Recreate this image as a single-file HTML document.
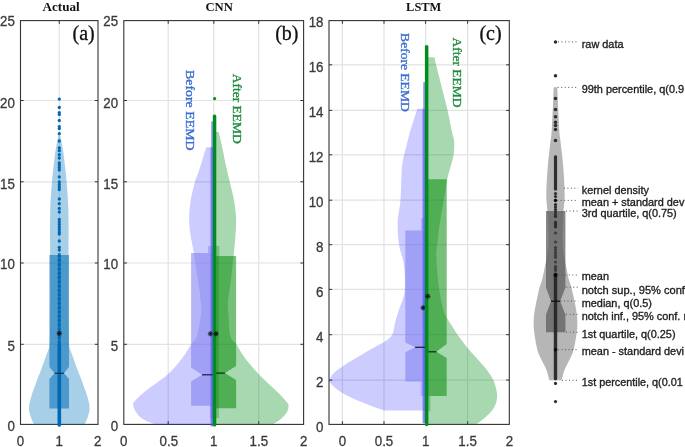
<!DOCTYPE html>
<html><head><meta charset="utf-8"><title>Violin plots</title>
<style>html,body{margin:0;padding:0;background:#fff;}svg{display:block;will-change:transform;opacity:0.999;}</style></head>
<body>
<svg width="685" height="447" viewBox="0 0 685 447">
<rect width="685" height="447" fill="#ffffff"/>
<line x1="59.30" y1="20.60" x2="59.30" y2="424.40" stroke="#e2e2e2" stroke-width="1.2"/>
<line x1="20.50" y1="100.50" x2="98.00" y2="100.50" stroke="#e2e2e2" stroke-width="1.2"/>
<line x1="20.50" y1="181.80" x2="98.00" y2="181.80" stroke="#e2e2e2" stroke-width="1.2"/>
<line x1="20.50" y1="263.00" x2="98.00" y2="263.00" stroke="#e2e2e2" stroke-width="1.2"/>
<line x1="20.50" y1="344.30" x2="98.00" y2="344.30" stroke="#e2e2e2" stroke-width="1.2"/>
<rect x="20.50" y="20.60" width="77.50" height="403.80" fill="none" stroke="#333333" stroke-width="1.1"/>
<line x1="59.30" y1="20.60" x2="59.30" y2="23.80" stroke="#333333" stroke-width="1"/>
<line x1="59.30" y1="424.40" x2="59.30" y2="421.20" stroke="#333333" stroke-width="1"/>
<line x1="20.50" y1="100.50" x2="23.70" y2="100.50" stroke="#333333" stroke-width="1"/>
<line x1="98.00" y1="100.50" x2="94.80" y2="100.50" stroke="#333333" stroke-width="1"/>
<line x1="20.50" y1="181.80" x2="23.70" y2="181.80" stroke="#333333" stroke-width="1"/>
<line x1="98.00" y1="181.80" x2="94.80" y2="181.80" stroke="#333333" stroke-width="1"/>
<line x1="20.50" y1="263.00" x2="23.70" y2="263.00" stroke="#333333" stroke-width="1"/>
<line x1="98.00" y1="263.00" x2="94.80" y2="263.00" stroke="#333333" stroke-width="1"/>
<line x1="20.50" y1="344.30" x2="23.70" y2="344.30" stroke="#333333" stroke-width="1"/>
<line x1="98.00" y1="344.30" x2="94.80" y2="344.30" stroke="#333333" stroke-width="1"/>
<clipPath id="ca"><rect x="20.50" y="20.60" width="77.50" height="403.80"/></clipPath>
<g clip-path="url(#ca)"><path d="M59.10 133.00C58.83 134.17 58.08 137.17 57.50 140.00C56.92 142.83 56.23 145.83 55.60 150.00C54.97 154.17 54.30 159.70 53.70 165.00C53.10 170.30 52.58 174.30 52.00 181.80C51.42 189.30 50.52 197.80 50.20 210.00C49.88 222.20 50.08 240.00 50.10 255.00C50.12 270.00 50.32 286.67 50.30 300.00C50.28 313.33 50.08 327.83 50.00 335.00C49.92 342.17 49.90 341.05 49.80 343.00C49.70 344.95 49.78 345.20 49.40 346.70C49.02 348.20 48.22 350.05 47.50 352.00C46.78 353.95 46.18 355.40 45.10 358.40C44.02 361.40 42.45 366.12 41.00 370.00C39.55 373.88 37.47 378.87 36.40 381.70C35.33 384.53 35.38 384.78 34.60 387.00C33.82 389.22 32.63 391.73 31.70 395.00C30.77 398.27 29.20 403.10 29.00 406.60C28.80 410.10 29.65 413.02 30.50 416.00C31.35 418.98 32.80 422.17 34.10 424.50C35.40 426.83 37.60 429.08 38.30 430.00L80.30 430.00C81.00 429.08 83.20 426.83 84.50 424.50C85.80 422.17 87.25 418.98 88.10 416.00C88.95 413.02 89.80 410.10 89.60 406.60C89.40 403.10 87.83 398.27 86.90 395.00C85.97 391.73 84.78 389.22 84.00 387.00C83.22 384.78 83.27 384.53 82.20 381.70C81.13 378.87 79.05 373.88 77.60 370.00C76.15 366.12 74.58 361.40 73.50 358.40C72.42 355.40 71.82 353.95 71.10 352.00C70.38 350.05 69.58 348.20 69.20 346.70C68.82 345.20 68.90 344.95 68.80 343.00C68.70 341.05 68.68 342.17 68.60 335.00C68.52 327.83 68.32 313.33 68.30 300.00C68.28 286.67 68.48 270.00 68.50 255.00C68.52 240.00 68.72 222.20 68.40 210.00C68.08 197.80 67.18 189.30 66.60 181.80C66.02 174.30 65.50 170.30 64.90 165.00C64.30 159.70 63.63 154.17 63.00 150.00C62.37 145.83 61.68 142.83 61.10 140.00C60.52 137.17 59.77 134.17 59.50 133.00Z" fill="rgba(0,114,189,0.34)"/></g>
<path d="M49.40 255.00L69.00 255.00L69.00 367.00L64.00 373.30L69.00 379.00L69.00 408.60L49.40 408.60L49.40 379.00L54.60 373.30L49.40 367.00Z" fill="rgba(0,110,183,0.55)"/>
<circle cx="59.30" cy="99.10" r="1.65" fill="#0069b4"/>
<circle cx="59.30" cy="107.50" r="1.65" fill="#0069b4"/>
<circle cx="59.30" cy="112.60" r="1.65" fill="#0069b4"/>
<circle cx="59.30" cy="114.60" r="1.65" fill="#0069b4"/>
<circle cx="59.30" cy="120.50" r="1.65" fill="#0069b4"/>
<circle cx="59.30" cy="126.60" r="1.65" fill="#0069b4"/>
<circle cx="59.30" cy="128.60" r="1.65" fill="#0069b4"/>
<circle cx="59.30" cy="133.70" r="1.65" fill="#0069b4"/>
<circle cx="59.30" cy="141.00" r="1.65" fill="#0069b4"/>
<circle cx="59.30" cy="148.00" r="1.65" fill="#0069b4"/>
<circle cx="59.30" cy="150.70" r="1.65" fill="#0069b4"/>
<circle cx="59.30" cy="154.70" r="1.65" fill="#0069b4"/>
<circle cx="59.30" cy="158.00" r="1.65" fill="#0069b4"/>
<circle cx="59.30" cy="162.80" r="1.65" fill="#0069b4"/>
<circle cx="59.30" cy="165.00" r="1.65" fill="#0069b4"/>
<circle cx="59.30" cy="167.50" r="1.65" fill="#0069b4"/>
<circle cx="59.30" cy="170.00" r="1.65" fill="#0069b4"/>
<circle cx="59.30" cy="176.90" r="1.65" fill="#0069b4"/>
<circle cx="59.30" cy="182.00" r="1.65" fill="#0069b4"/>
<circle cx="59.30" cy="184.50" r="1.65" fill="#0069b4"/>
<circle cx="59.30" cy="187.00" r="1.65" fill="#0069b4"/>
<circle cx="59.30" cy="189.50" r="1.65" fill="#0069b4"/>
<circle cx="59.30" cy="199.00" r="1.65" fill="#0069b4"/>
<circle cx="59.30" cy="203.70" r="1.65" fill="#0069b4"/>
<circle cx="59.30" cy="208.40" r="1.65" fill="#0069b4"/>
<circle cx="59.30" cy="212.00" r="1.65" fill="#0069b4"/>
<circle cx="59.30" cy="219.40" r="1.65" fill="#0069b4"/>
<circle cx="59.30" cy="222.00" r="1.65" fill="#0069b4"/>
<circle cx="59.30" cy="224.50" r="1.65" fill="#0069b4"/>
<circle cx="59.30" cy="227.00" r="1.65" fill="#0069b4"/>
<circle cx="59.30" cy="229.50" r="1.65" fill="#0069b4"/>
<circle cx="59.30" cy="232.00" r="1.65" fill="#0069b4"/>
<circle cx="59.30" cy="234.00" r="1.65" fill="#0069b4"/>
<circle cx="59.30" cy="241.00" r="1.65" fill="#0069b4"/>
<circle cx="59.30" cy="247.30" r="1.65" fill="#0069b4"/>
<circle cx="59.30" cy="250.00" r="1.65" fill="#0069b4"/>
<rect x="57.80" y="253.00" width="3.0" height="92.00" fill="rgba(0,105,180,0.7)"/>
<circle cx="59.30" cy="256.00" r="1.7" fill="#0069b4"/>
<circle cx="59.30" cy="260.30" r="1.7" fill="#0069b4"/>
<circle cx="59.30" cy="264.60" r="1.7" fill="#0069b4"/>
<circle cx="59.30" cy="268.90" r="1.7" fill="#0069b4"/>
<circle cx="59.30" cy="273.20" r="1.7" fill="#0069b4"/>
<circle cx="59.30" cy="277.50" r="1.7" fill="#0069b4"/>
<circle cx="59.30" cy="281.80" r="1.7" fill="#0069b4"/>
<circle cx="59.30" cy="286.10" r="1.7" fill="#0069b4"/>
<circle cx="59.30" cy="290.40" r="1.7" fill="#0069b4"/>
<circle cx="59.30" cy="294.70" r="1.7" fill="#0069b4"/>
<circle cx="59.30" cy="299.00" r="1.7" fill="#0069b4"/>
<circle cx="59.30" cy="303.30" r="1.7" fill="#0069b4"/>
<circle cx="59.30" cy="307.60" r="1.7" fill="#0069b4"/>
<circle cx="59.30" cy="311.90" r="1.7" fill="#0069b4"/>
<circle cx="59.30" cy="316.20" r="1.7" fill="#0069b4"/>
<circle cx="59.30" cy="320.50" r="1.7" fill="#0069b4"/>
<circle cx="59.30" cy="324.80" r="1.7" fill="#0069b4"/>
<circle cx="59.30" cy="329.10" r="1.7" fill="#0069b4"/>
<circle cx="59.30" cy="333.40" r="1.7" fill="#0069b4"/>
<circle cx="59.30" cy="337.70" r="1.7" fill="#0069b4"/>
<circle cx="59.30" cy="342.00" r="1.7" fill="#0069b4"/>
<rect x="57.50" y="343.00" width="3.6" height="83.80" rx="1.7" fill="#0069b4"/>
<line x1="54.60" y1="373.30" x2="64.00" y2="373.30" stroke="rgba(0,20,40,0.75)" stroke-width="1.2"/>
<circle cx="59.30" cy="333.40" r="2.32" fill="rgba(0,0,0,0.5)"/>
<line x1="56.40" y1="333.40" x2="62.20" y2="333.40" stroke="rgba(0,0,0,0.5)" stroke-width="0.8"/>
<line x1="57.25" y1="331.35" x2="61.35" y2="335.45" stroke="rgba(0,0,0,0.5)" stroke-width="0.8"/>
<line x1="59.30" y1="330.50" x2="59.30" y2="336.30" stroke="rgba(0,0,0,0.5)" stroke-width="0.8"/>
<line x1="61.35" y1="331.35" x2="57.25" y2="335.45" stroke="rgba(0,0,0,0.5)" stroke-width="0.8"/>
<text transform="translate(14.80,26.40) scale(1,1.110)" font-family="'Liberation Sans', sans-serif" font-size="13.33px" font-weight="normal" text-anchor="end" fill="#3a3a3a" stroke="#3a3a3a" stroke-width="0.28">25</text>
<text transform="translate(14.80,107.50) scale(1,1.110)" font-family="'Liberation Sans', sans-serif" font-size="13.33px" font-weight="normal" text-anchor="end" fill="#3a3a3a" stroke="#3a3a3a" stroke-width="0.28">20</text>
<text transform="translate(14.80,188.70) scale(1,1.110)" font-family="'Liberation Sans', sans-serif" font-size="13.33px" font-weight="normal" text-anchor="end" fill="#3a3a3a" stroke="#3a3a3a" stroke-width="0.28">15</text>
<text transform="translate(14.80,269.40) scale(1,1.110)" font-family="'Liberation Sans', sans-serif" font-size="13.33px" font-weight="normal" text-anchor="end" fill="#3a3a3a" stroke="#3a3a3a" stroke-width="0.28">10</text>
<text transform="translate(14.80,350.50) scale(1,1.110)" font-family="'Liberation Sans', sans-serif" font-size="13.33px" font-weight="normal" text-anchor="end" fill="#3a3a3a" stroke="#3a3a3a" stroke-width="0.28">5</text>
<text transform="translate(14.80,431.40) scale(1,1.110)" font-family="'Liberation Sans', sans-serif" font-size="13.33px" font-weight="normal" text-anchor="end" fill="#3a3a3a" stroke="#3a3a3a" stroke-width="0.28">0</text>
<text transform="translate(20.50,445.80) scale(1,1.110)" font-family="'Liberation Sans', sans-serif" font-size="13.33px" font-weight="normal" text-anchor="middle" fill="#3a3a3a" stroke="#3a3a3a" stroke-width="0.28">0</text>
<text transform="translate(59.30,445.80) scale(1,1.110)" font-family="'Liberation Sans', sans-serif" font-size="13.33px" font-weight="normal" text-anchor="middle" fill="#3a3a3a" stroke="#3a3a3a" stroke-width="0.28">1</text>
<text transform="translate(97.80,445.80) scale(1,1.110)" font-family="'Liberation Sans', sans-serif" font-size="13.33px" font-weight="normal" text-anchor="middle" fill="#3a3a3a" stroke="#3a3a3a" stroke-width="0.28">2</text>
<text transform="translate(61.10,10.70) scale(1,1.000)" font-family="'Liberation Serif', serif" font-size="13.30px" font-weight="bold" text-anchor="middle" fill="#111" textLength="37.2" lengthAdjust="spacingAndGlyphs">Actual</text>
<text transform="translate(83.60,39.60) scale(1,1.000)" font-family="'Liberation Serif', serif" font-size="20.00px" font-weight="normal" text-anchor="middle" fill="#111" stroke="#111" stroke-width="0.3">(a)</text>
<line x1="168.20" y1="20.60" x2="168.20" y2="424.40" stroke="#e2e2e2" stroke-width="1.2"/>
<line x1="213.80" y1="20.60" x2="213.80" y2="424.40" stroke="#e2e2e2" stroke-width="1.2"/>
<line x1="258.70" y1="20.60" x2="258.70" y2="424.40" stroke="#e2e2e2" stroke-width="1.2"/>
<line x1="123.80" y1="100.50" x2="303.60" y2="100.50" stroke="#e2e2e2" stroke-width="1.2"/>
<line x1="123.80" y1="181.80" x2="303.60" y2="181.80" stroke="#e2e2e2" stroke-width="1.2"/>
<line x1="123.80" y1="263.00" x2="303.60" y2="263.00" stroke="#e2e2e2" stroke-width="1.2"/>
<line x1="123.80" y1="344.30" x2="303.60" y2="344.30" stroke="#e2e2e2" stroke-width="1.2"/>
<rect x="123.80" y="20.60" width="179.80" height="403.80" fill="none" stroke="#333333" stroke-width="1.1"/>
<line x1="168.20" y1="20.60" x2="168.20" y2="23.80" stroke="#333333" stroke-width="1"/>
<line x1="168.20" y1="424.40" x2="168.20" y2="421.20" stroke="#333333" stroke-width="1"/>
<line x1="213.80" y1="20.60" x2="213.80" y2="23.80" stroke="#333333" stroke-width="1"/>
<line x1="213.80" y1="424.40" x2="213.80" y2="421.20" stroke="#333333" stroke-width="1"/>
<line x1="258.70" y1="20.60" x2="258.70" y2="23.80" stroke="#333333" stroke-width="1"/>
<line x1="258.70" y1="424.40" x2="258.70" y2="421.20" stroke="#333333" stroke-width="1"/>
<line x1="123.80" y1="100.50" x2="127.00" y2="100.50" stroke="#333333" stroke-width="1"/>
<line x1="303.60" y1="100.50" x2="300.40" y2="100.50" stroke="#333333" stroke-width="1"/>
<line x1="123.80" y1="181.80" x2="127.00" y2="181.80" stroke="#333333" stroke-width="1"/>
<line x1="303.60" y1="181.80" x2="300.40" y2="181.80" stroke="#333333" stroke-width="1"/>
<line x1="123.80" y1="263.00" x2="127.00" y2="263.00" stroke="#333333" stroke-width="1"/>
<line x1="303.60" y1="263.00" x2="300.40" y2="263.00" stroke="#333333" stroke-width="1"/>
<line x1="123.80" y1="344.30" x2="127.00" y2="344.30" stroke="#333333" stroke-width="1"/>
<line x1="303.60" y1="344.30" x2="300.40" y2="344.30" stroke="#333333" stroke-width="1"/>
<clipPath id="cb"><rect x="123.80" y="20.60" width="179.80" height="403.80"/></clipPath>
<g clip-path="url(#cb)"><path d="M213.80 147.30L206.30 147.30C205.83 148.75 204.42 153.05 203.50 156.00C202.58 158.95 201.75 162.00 200.80 165.00C199.85 168.00 198.77 171.20 197.80 174.00C196.83 176.80 196.17 177.47 195.00 181.80C193.83 186.13 191.78 193.97 190.80 200.00C189.82 206.03 189.15 212.17 189.10 218.00C189.05 223.83 189.80 229.67 190.50 235.00C191.20 240.33 192.05 242.50 193.30 250.00C194.55 257.50 196.78 271.67 198.00 280.00C199.22 288.33 200.08 294.50 200.60 300.00C201.12 305.50 201.70 307.00 201.10 313.00C200.50 319.00 198.63 330.83 197.00 336.00C195.37 341.17 193.72 340.38 191.30 344.00C188.88 347.62 186.45 352.62 182.50 357.70C178.55 362.78 173.82 368.90 167.60 374.50C161.38 380.10 150.80 386.72 145.20 391.30C139.60 395.88 135.98 399.72 134.00 402.00C132.02 404.28 133.17 403.67 133.30 405.00C133.43 406.33 133.77 408.08 134.80 410.00C135.83 411.92 137.63 414.70 139.50 416.50C141.37 418.30 143.38 419.48 146.00 420.80C148.62 422.12 151.87 423.12 155.20 424.40C158.53 425.68 164.20 427.82 166.00 428.50L213.80 430.00Z" fill="rgba(0,0,255,0.2)"/></g>
<g clip-path="url(#cb)"><path d="M213.80 132.00L218.70 132.00C219.02 133.33 219.92 137.00 220.60 140.00C221.28 143.00 221.93 145.83 222.80 150.00C223.67 154.17 224.65 159.70 225.80 165.00C226.95 170.30 228.33 175.97 229.70 181.80C231.07 187.63 232.93 193.97 234.00 200.00C235.07 206.03 235.85 212.17 236.10 218.00C236.35 223.83 235.82 229.67 235.50 235.00C235.18 240.33 234.95 242.50 234.20 250.00C233.45 257.50 232.00 271.67 231.00 280.00C230.00 288.33 228.63 294.50 228.20 300.00C227.77 305.50 228.03 307.00 228.40 313.00C228.77 319.00 229.12 330.83 230.40 336.00C231.68 341.17 233.70 340.38 236.10 344.00C238.50 347.62 240.98 352.62 244.80 357.70C248.62 362.78 253.68 368.90 259.00 374.50C264.32 380.10 272.03 386.63 276.70 391.30C281.37 395.97 285.03 399.97 287.00 402.50C288.97 405.03 288.42 405.08 288.50 406.50C288.58 407.92 288.25 409.42 287.50 411.00C286.75 412.58 285.42 414.42 284.00 416.00C282.58 417.58 280.98 419.10 279.00 420.50C277.02 421.90 274.93 423.07 272.10 424.40C269.27 425.73 263.68 427.82 262.00 428.50L213.80 430.00Z" fill="rgba(0,140,20,0.34)"/></g>
<path d="M213.80 253.10L191.10 253.10L191.10 367.50L202.00 374.80L191.10 381.50L191.10 405.70L213.80 405.70Z" fill="rgba(130,130,242,0.6)"/>
<path d="M213.80 256.00L236.10 256.00L236.10 366.10L224.90 373.10L236.10 380.10L236.10 408.30L213.80 408.30Z" fill="rgba(5,138,9,0.54)"/>
<rect x="208" y="246" width="5.80" height="7.10" fill="rgba(110,110,240,0.35)"/>
<rect x="213.80" y="246" width="5.50" height="10.00" fill="rgba(5,138,9,0.30)"/>
<rect x="210.2" y="405.7" width="3.60" height="12.30" fill="rgba(110,110,240,0.35)"/>
<rect x="213.80" y="408.3" width="5.20" height="9.70" fill="rgba(5,138,9,0.30)"/>
<rect x="209.9" y="147.3" width="3.1" height="279.00" fill="rgba(90,90,245,0.32)"/>
<rect x="211.2" y="121.4" width="1.8" height="304.90" fill="rgba(80,80,245,0.6)"/>
<rect x="216.3" y="256" width="2.7" height="152.30" fill="rgba(0,120,10,0.25)"/>
<line x1="202" y1="374.8" x2="212.6" y2="374.8" stroke="#1a1a3a" stroke-width="1.2"/>
<line x1="213.5" y1="373.1" x2="224.9" y2="373.1" stroke="#0a2a0a" stroke-width="1.2"/>
<circle cx="210.50" cy="333.80" r="2.32" fill="rgba(0,0,0,0.5)"/>
<line x1="207.60" y1="333.80" x2="213.40" y2="333.80" stroke="rgba(0,0,0,0.5)" stroke-width="0.8"/>
<line x1="208.45" y1="331.75" x2="212.55" y2="335.85" stroke="rgba(0,0,0,0.5)" stroke-width="0.8"/>
<line x1="210.50" y1="330.90" x2="210.50" y2="336.70" stroke="rgba(0,0,0,0.5)" stroke-width="0.8"/>
<line x1="212.55" y1="331.75" x2="208.45" y2="335.85" stroke="rgba(0,0,0,0.5)" stroke-width="0.8"/>
<rect x="212.8" y="114.5" width="3.5" height="312.00" rx="1.6" fill="#008c1e"/>
<circle cx="214.6" cy="98.6" r="1.6" fill="#008c1e"/>
<circle cx="216.00" cy="333.80" r="2.32" fill="rgba(0,0,0,0.5)"/>
<line x1="213.10" y1="333.80" x2="218.90" y2="333.80" stroke="rgba(0,0,0,0.5)" stroke-width="0.8"/>
<line x1="213.95" y1="331.75" x2="218.05" y2="335.85" stroke="rgba(0,0,0,0.5)" stroke-width="0.8"/>
<line x1="216.00" y1="330.90" x2="216.00" y2="336.70" stroke="rgba(0,0,0,0.5)" stroke-width="0.8"/>
<line x1="218.05" y1="331.75" x2="213.95" y2="335.85" stroke="rgba(0,0,0,0.5)" stroke-width="0.8"/>
<text transform="translate(118.10,26.40) scale(1,1.110)" font-family="'Liberation Sans', sans-serif" font-size="13.33px" font-weight="normal" text-anchor="end" fill="#3a3a3a" stroke="#3a3a3a" stroke-width="0.28">25</text>
<text transform="translate(118.10,107.50) scale(1,1.110)" font-family="'Liberation Sans', sans-serif" font-size="13.33px" font-weight="normal" text-anchor="end" fill="#3a3a3a" stroke="#3a3a3a" stroke-width="0.28">20</text>
<text transform="translate(118.10,188.70) scale(1,1.110)" font-family="'Liberation Sans', sans-serif" font-size="13.33px" font-weight="normal" text-anchor="end" fill="#3a3a3a" stroke="#3a3a3a" stroke-width="0.28">15</text>
<text transform="translate(118.10,269.40) scale(1,1.110)" font-family="'Liberation Sans', sans-serif" font-size="13.33px" font-weight="normal" text-anchor="end" fill="#3a3a3a" stroke="#3a3a3a" stroke-width="0.28">10</text>
<text transform="translate(118.10,350.50) scale(1,1.110)" font-family="'Liberation Sans', sans-serif" font-size="13.33px" font-weight="normal" text-anchor="end" fill="#3a3a3a" stroke="#3a3a3a" stroke-width="0.28">5</text>
<text transform="translate(118.10,431.40) scale(1,1.110)" font-family="'Liberation Sans', sans-serif" font-size="13.33px" font-weight="normal" text-anchor="end" fill="#3a3a3a" stroke="#3a3a3a" stroke-width="0.28">0</text>
<text transform="translate(123.80,445.80) scale(1,1.110)" font-family="'Liberation Sans', sans-serif" font-size="13.33px" font-weight="normal" text-anchor="middle" fill="#3a3a3a" stroke="#3a3a3a" stroke-width="0.28">0</text>
<text transform="translate(168.80,445.80) scale(1,1.110)" font-family="'Liberation Sans', sans-serif" font-size="13.33px" font-weight="normal" text-anchor="middle" fill="#3a3a3a" stroke="#3a3a3a" stroke-width="0.28">0.5</text>
<text transform="translate(213.80,445.80) scale(1,1.110)" font-family="'Liberation Sans', sans-serif" font-size="13.33px" font-weight="normal" text-anchor="middle" fill="#3a3a3a" stroke="#3a3a3a" stroke-width="0.28">1</text>
<text transform="translate(258.80,445.80) scale(1,1.110)" font-family="'Liberation Sans', sans-serif" font-size="13.33px" font-weight="normal" text-anchor="middle" fill="#3a3a3a" stroke="#3a3a3a" stroke-width="0.28">1.5</text>
<text transform="translate(303.80,445.80) scale(1,1.110)" font-family="'Liberation Sans', sans-serif" font-size="13.33px" font-weight="normal" text-anchor="middle" fill="#3a3a3a" stroke="#3a3a3a" stroke-width="0.28">2</text>
<text transform="translate(219.10,10.70) scale(1,1.000)" font-family="'Liberation Serif', serif" font-size="13.30px" font-weight="bold" text-anchor="middle" fill="#111" textLength="27.4" lengthAdjust="spacingAndGlyphs">CNN</text>
<text transform="translate(286.80,39.50) scale(1,1.000)" font-family="'Liberation Serif', serif" font-size="20.00px" font-weight="normal" text-anchor="middle" fill="#111" stroke="#111" stroke-width="0.3">(b)</text>
<text transform="translate(186.00,70.00) rotate(90)" font-family="'Liberation Serif', serif" font-size="13.40px" stroke="#3d6fd0" stroke-width="0.35" fill="#3d6fd0" textLength="80.50" lengthAdjust="spacingAndGlyphs">Before EEMD</text>
<text transform="translate(233.40,73.80) rotate(90)" font-family="'Liberation Serif', serif" font-size="13.40px" stroke="#1e8c3c" stroke-width="0.35" fill="#1e8c3c" textLength="70.00" lengthAdjust="spacingAndGlyphs">After EEMD</text>
<line x1="342.40" y1="20.60" x2="342.40" y2="424.40" stroke="#e2e2e2" stroke-width="1.2"/>
<line x1="384.00" y1="20.60" x2="384.00" y2="424.40" stroke="#e2e2e2" stroke-width="1.2"/>
<line x1="425.60" y1="20.60" x2="425.60" y2="424.40" stroke="#e2e2e2" stroke-width="1.2"/>
<line x1="467.60" y1="20.60" x2="467.60" y2="424.40" stroke="#e2e2e2" stroke-width="1.2"/>
<line x1="329.00" y1="64.80" x2="509.30" y2="64.80" stroke="#e2e2e2" stroke-width="1.2"/>
<line x1="329.00" y1="110.40" x2="509.30" y2="110.40" stroke="#e2e2e2" stroke-width="1.2"/>
<line x1="329.00" y1="154.80" x2="509.30" y2="154.80" stroke="#e2e2e2" stroke-width="1.2"/>
<line x1="329.00" y1="200.20" x2="509.30" y2="200.20" stroke="#e2e2e2" stroke-width="1.2"/>
<line x1="329.00" y1="244.70" x2="509.30" y2="244.70" stroke="#e2e2e2" stroke-width="1.2"/>
<line x1="329.00" y1="289.40" x2="509.30" y2="289.40" stroke="#e2e2e2" stroke-width="1.2"/>
<line x1="329.00" y1="334.70" x2="509.30" y2="334.70" stroke="#e2e2e2" stroke-width="1.2"/>
<line x1="329.00" y1="380.10" x2="509.30" y2="380.10" stroke="#e2e2e2" stroke-width="1.2"/>
<rect x="329.00" y="20.60" width="180.30" height="403.80" fill="none" stroke="#333333" stroke-width="1.1"/>
<line x1="342.40" y1="20.60" x2="342.40" y2="23.80" stroke="#333333" stroke-width="1"/>
<line x1="342.40" y1="424.40" x2="342.40" y2="421.20" stroke="#333333" stroke-width="1"/>
<line x1="384.00" y1="20.60" x2="384.00" y2="23.80" stroke="#333333" stroke-width="1"/>
<line x1="384.00" y1="424.40" x2="384.00" y2="421.20" stroke="#333333" stroke-width="1"/>
<line x1="425.60" y1="20.60" x2="425.60" y2="23.80" stroke="#333333" stroke-width="1"/>
<line x1="425.60" y1="424.40" x2="425.60" y2="421.20" stroke="#333333" stroke-width="1"/>
<line x1="467.60" y1="20.60" x2="467.60" y2="23.80" stroke="#333333" stroke-width="1"/>
<line x1="467.60" y1="424.40" x2="467.60" y2="421.20" stroke="#333333" stroke-width="1"/>
<line x1="329.00" y1="64.80" x2="332.20" y2="64.80" stroke="#333333" stroke-width="1"/>
<line x1="509.30" y1="64.80" x2="506.10" y2="64.80" stroke="#333333" stroke-width="1"/>
<line x1="329.00" y1="110.40" x2="332.20" y2="110.40" stroke="#333333" stroke-width="1"/>
<line x1="509.30" y1="110.40" x2="506.10" y2="110.40" stroke="#333333" stroke-width="1"/>
<line x1="329.00" y1="154.80" x2="332.20" y2="154.80" stroke="#333333" stroke-width="1"/>
<line x1="509.30" y1="154.80" x2="506.10" y2="154.80" stroke="#333333" stroke-width="1"/>
<line x1="329.00" y1="200.20" x2="332.20" y2="200.20" stroke="#333333" stroke-width="1"/>
<line x1="509.30" y1="200.20" x2="506.10" y2="200.20" stroke="#333333" stroke-width="1"/>
<line x1="329.00" y1="244.70" x2="332.20" y2="244.70" stroke="#333333" stroke-width="1"/>
<line x1="509.30" y1="244.70" x2="506.10" y2="244.70" stroke="#333333" stroke-width="1"/>
<line x1="329.00" y1="289.40" x2="332.20" y2="289.40" stroke="#333333" stroke-width="1"/>
<line x1="509.30" y1="289.40" x2="506.10" y2="289.40" stroke="#333333" stroke-width="1"/>
<line x1="329.00" y1="334.70" x2="332.20" y2="334.70" stroke="#333333" stroke-width="1"/>
<line x1="509.30" y1="334.70" x2="506.10" y2="334.70" stroke="#333333" stroke-width="1"/>
<line x1="329.00" y1="380.10" x2="332.20" y2="380.10" stroke="#333333" stroke-width="1"/>
<line x1="509.30" y1="380.10" x2="506.10" y2="380.10" stroke="#333333" stroke-width="1"/>
<clipPath id="cc"><rect x="329.00" y="20.60" width="180.30" height="403.80"/></clipPath>
<g clip-path="url(#cc)"><path d="M425.60 108.70L417.30 108.70C416.08 112.58 411.77 125.95 410.00 132.00C408.23 138.05 407.67 141.25 406.70 145.00C405.73 148.75 405.00 150.67 404.20 154.50C403.40 158.33 402.52 160.42 401.90 168.00C401.28 175.58 401.20 191.00 400.50 200.00C399.80 209.00 397.93 214.50 397.70 222.00C397.47 229.50 398.05 237.83 399.10 245.00C400.15 252.17 403.05 257.60 404.00 265.00C404.95 272.40 405.05 283.57 404.80 289.40C404.55 295.23 403.43 296.73 402.50 300.00C401.57 303.27 400.45 305.17 399.20 309.00C397.95 312.83 396.17 318.70 395.00 323.00C393.83 327.30 393.83 331.77 392.20 334.80C390.57 337.83 388.47 338.97 385.20 341.20C381.93 343.43 377.03 345.63 372.60 348.20C368.17 350.77 363.27 353.80 358.60 356.60C353.93 359.40 348.80 362.20 344.60 365.00C340.40 367.80 335.83 371.07 333.40 373.40C330.97 375.73 330.62 377.57 330.00 379.00C329.38 380.43 328.90 380.60 329.70 382.00C330.50 383.40 331.85 385.10 334.80 387.40C337.75 389.70 342.03 393.00 347.40 395.80C352.77 398.60 361.17 401.87 367.00 404.20C372.83 406.53 379.23 408.73 382.40 409.80C385.57 410.87 385.40 410.47 386.00 410.60L425.60 410.60Z" fill="rgba(0,0,255,0.2)"/></g>
<g clip-path="url(#cc)"><path d="M425.60 57.20L434.70 57.20C434.93 58.47 434.80 59.33 436.10 64.80C437.40 70.27 440.58 82.40 442.50 90.00C444.42 97.60 446.02 103.40 447.60 110.40C449.18 117.40 450.97 127.23 452.00 132.00C453.03 136.77 453.42 136.67 453.80 139.00C454.18 141.33 454.37 143.17 454.30 146.00C454.23 148.83 454.03 152.50 453.40 156.00C452.77 159.50 451.52 163.13 450.50 167.00C449.48 170.87 448.40 173.70 447.30 179.20C446.20 184.70 445.17 192.53 443.90 200.00C442.63 207.47 440.82 216.50 439.70 224.00C438.58 231.50 437.77 239.83 437.20 245.00C436.63 250.17 436.28 250.50 436.30 255.00C436.32 259.50 436.80 266.17 437.30 272.00C437.80 277.83 438.30 283.67 439.30 290.00C440.30 296.33 442.07 305.42 443.30 310.00C444.53 314.58 445.25 314.83 446.70 317.50C448.15 320.17 450.22 323.15 452.00 326.00C453.78 328.85 455.83 332.27 457.40 334.60C458.97 336.93 459.42 337.43 461.40 340.00C463.38 342.57 466.48 346.65 469.30 350.00C472.12 353.35 475.35 356.73 478.30 360.10C481.25 363.47 484.48 366.83 487.00 370.20C489.52 373.57 491.82 376.93 493.40 380.30C494.98 383.67 495.88 387.72 496.50 390.40C497.12 393.08 497.27 394.05 497.10 396.40C496.93 398.75 496.62 401.82 495.50 404.50C494.38 407.18 492.75 409.82 490.40 412.50C488.05 415.18 483.75 418.65 481.40 420.60C479.05 422.55 478.20 422.80 476.30 424.20C474.40 425.60 471.05 428.20 470.00 429.00L425.60 429.00Z" fill="rgba(0,140,20,0.34)"/></g>
<path d="M425.60 230.40L405.30 230.40L405.30 342.50L415.10 347.30L405.30 352.30L405.30 381.40L425.60 381.40Z" fill="rgba(130,130,242,0.6)"/>
<path d="M425.60 179.20L446.70 179.20L446.70 344.00L436.40 351.80L446.70 358.00L446.70 396.00L425.60 396.00Z" fill="rgba(5,138,9,0.54)"/>
<rect x="421" y="218.3" width="4.60" height="12.10" fill="rgba(110,110,240,0.35)"/>
<rect x="420.7" y="381.4" width="4.90" height="14.60" fill="rgba(110,110,240,0.35)"/>
<rect x="425.60" y="396" width="4.80" height="15.30" fill="rgba(5,138,9,0.30)"/>
<rect x="422.0" y="108.7" width="3.0" height="314.50" fill="rgba(90,90,245,0.32)"/>
<rect x="423.2" y="82.1" width="1.8" height="341.10" fill="rgba(80,80,245,0.6)"/>
<line x1="415.1" y1="347.3" x2="424.9" y2="347.3" stroke="#1a1a3a" stroke-width="1.2"/>
<line x1="425.7" y1="351.8" x2="436.4" y2="351.8" stroke="#0a2a0a" stroke-width="1.2"/>
<circle cx="423.20" cy="307.80" r="2.32" fill="rgba(0,0,0,0.5)"/>
<line x1="420.30" y1="307.80" x2="426.10" y2="307.80" stroke="rgba(0,0,0,0.5)" stroke-width="0.8"/>
<line x1="421.15" y1="305.75" x2="425.25" y2="309.85" stroke="rgba(0,0,0,0.5)" stroke-width="0.8"/>
<line x1="423.20" y1="304.90" x2="423.20" y2="310.70" stroke="rgba(0,0,0,0.5)" stroke-width="0.8"/>
<line x1="425.25" y1="305.75" x2="421.15" y2="309.85" stroke="rgba(0,0,0,0.5)" stroke-width="0.8"/>
<rect x="424.9" y="45.0" width="3.5" height="381.20" rx="1.6" fill="#008c1e"/>
<circle cx="427.80" cy="296.30" r="2.32" fill="rgba(0,0,0,0.5)"/>
<line x1="424.90" y1="296.30" x2="430.70" y2="296.30" stroke="rgba(0,0,0,0.5)" stroke-width="0.8"/>
<line x1="425.75" y1="294.25" x2="429.85" y2="298.35" stroke="rgba(0,0,0,0.5)" stroke-width="0.8"/>
<line x1="427.80" y1="293.40" x2="427.80" y2="299.20" stroke="rgba(0,0,0,0.5)" stroke-width="0.8"/>
<line x1="429.85" y1="294.25" x2="425.75" y2="298.35" stroke="rgba(0,0,0,0.5)" stroke-width="0.8"/>
<text transform="translate(323.50,26.50) scale(1,1.110)" font-family="'Liberation Sans', sans-serif" font-size="13.33px" font-weight="normal" text-anchor="end" fill="#3a3a3a" stroke="#3a3a3a" stroke-width="0.28">18</text>
<text transform="translate(323.50,71.80) scale(1,1.110)" font-family="'Liberation Sans', sans-serif" font-size="13.33px" font-weight="normal" text-anchor="end" fill="#3a3a3a" stroke="#3a3a3a" stroke-width="0.28">16</text>
<text transform="translate(323.50,116.80) scale(1,1.110)" font-family="'Liberation Sans', sans-serif" font-size="13.33px" font-weight="normal" text-anchor="end" fill="#3a3a3a" stroke="#3a3a3a" stroke-width="0.28">14</text>
<text transform="translate(323.50,161.70) scale(1,1.110)" font-family="'Liberation Sans', sans-serif" font-size="13.33px" font-weight="normal" text-anchor="end" fill="#3a3a3a" stroke="#3a3a3a" stroke-width="0.28">12</text>
<text transform="translate(323.50,206.60) scale(1,1.110)" font-family="'Liberation Sans', sans-serif" font-size="13.33px" font-weight="normal" text-anchor="end" fill="#3a3a3a" stroke="#3a3a3a" stroke-width="0.28">10</text>
<text transform="translate(323.50,251.60) scale(1,1.110)" font-family="'Liberation Sans', sans-serif" font-size="13.33px" font-weight="normal" text-anchor="end" fill="#3a3a3a" stroke="#3a3a3a" stroke-width="0.28">8</text>
<text transform="translate(323.50,296.60) scale(1,1.110)" font-family="'Liberation Sans', sans-serif" font-size="13.33px" font-weight="normal" text-anchor="end" fill="#3a3a3a" stroke="#3a3a3a" stroke-width="0.28">6</text>
<text transform="translate(323.50,341.60) scale(1,1.110)" font-family="'Liberation Sans', sans-serif" font-size="13.33px" font-weight="normal" text-anchor="end" fill="#3a3a3a" stroke="#3a3a3a" stroke-width="0.28">4</text>
<text transform="translate(323.50,386.60) scale(1,1.110)" font-family="'Liberation Sans', sans-serif" font-size="13.33px" font-weight="normal" text-anchor="end" fill="#3a3a3a" stroke="#3a3a3a" stroke-width="0.28">2</text>
<text transform="translate(323.50,431.50) scale(1,1.110)" font-family="'Liberation Sans', sans-serif" font-size="13.33px" font-weight="normal" text-anchor="end" fill="#3a3a3a" stroke="#3a3a3a" stroke-width="0.28">0</text>
<text transform="translate(342.40,445.80) scale(1,1.110)" font-family="'Liberation Sans', sans-serif" font-size="13.33px" font-weight="normal" text-anchor="middle" fill="#3a3a3a" stroke="#3a3a3a" stroke-width="0.28">0</text>
<text transform="translate(384.00,445.80) scale(1,1.110)" font-family="'Liberation Sans', sans-serif" font-size="13.33px" font-weight="normal" text-anchor="middle" fill="#3a3a3a" stroke="#3a3a3a" stroke-width="0.28">0.5</text>
<text transform="translate(425.60,445.80) scale(1,1.110)" font-family="'Liberation Sans', sans-serif" font-size="13.33px" font-weight="normal" text-anchor="middle" fill="#3a3a3a" stroke="#3a3a3a" stroke-width="0.28">1</text>
<text transform="translate(467.60,445.80) scale(1,1.110)" font-family="'Liberation Sans', sans-serif" font-size="13.33px" font-weight="normal" text-anchor="middle" fill="#3a3a3a" stroke="#3a3a3a" stroke-width="0.28">1.5</text>
<text transform="translate(509.40,445.80) scale(1,1.110)" font-family="'Liberation Sans', sans-serif" font-size="13.33px" font-weight="normal" text-anchor="middle" fill="#3a3a3a" stroke="#3a3a3a" stroke-width="0.28">2</text>
<text transform="translate(423.70,10.70) scale(1,1.000)" font-family="'Liberation Serif', serif" font-size="13.30px" font-weight="bold" text-anchor="middle" fill="#111" textLength="35.2" lengthAdjust="spacingAndGlyphs">LSTM</text>
<text transform="translate(490.50,39.50) scale(1,1.000)" font-family="'Liberation Serif', serif" font-size="20.00px" font-weight="normal" text-anchor="middle" fill="#111" stroke="#111" stroke-width="0.3">(c)</text>
<text transform="translate(401.00,33.10) rotate(90)" font-family="'Liberation Serif', serif" font-size="13.40px" stroke="#3d6fd0" stroke-width="0.35" fill="#3d6fd0" textLength="78.60" lengthAdjust="spacingAndGlyphs">Before EEMD</text>
<text transform="translate(452.80,37.50) rotate(90)" font-family="'Liberation Serif', serif" font-size="13.40px" stroke="#1e8c3c" stroke-width="0.35" fill="#1e8c3c" textLength="70.00" lengthAdjust="spacingAndGlyphs">After EEMD</text>
<path d="M553.70 87.20C553.62 89.33 553.40 95.37 553.20 100.00C553.00 104.63 552.75 110.00 552.50 115.00C552.25 120.00 551.90 126.67 551.70 130.00C551.50 133.33 551.67 131.67 551.30 135.00C550.93 138.33 550.13 144.17 549.50 150.00C548.87 155.83 548.03 162.50 547.50 170.00C546.97 177.50 546.32 188.17 546.30 195.00C546.28 201.83 547.03 204.50 547.40 211.00C547.77 217.50 548.42 227.50 548.50 234.00C548.58 240.50 548.62 244.00 547.90 250.00C547.18 256.00 545.18 265.00 544.20 270.00C543.22 275.00 542.75 277.17 542.00 280.00C541.25 282.83 540.62 283.50 539.70 287.00C538.78 290.50 537.42 296.50 536.50 301.00C535.58 305.50 534.67 310.50 534.20 314.00C533.73 317.50 533.70 319.00 533.70 322.00C533.70 325.00 533.58 327.33 534.20 332.00C534.82 336.67 536.17 345.33 537.40 350.00C538.63 354.67 540.08 356.67 541.60 360.00C543.12 363.33 545.22 366.62 546.50 370.00C547.78 373.38 548.83 378.58 549.30 380.30L561.70 380.30C562.17 378.58 563.22 373.38 564.50 370.00C565.78 366.62 567.88 363.33 569.40 360.00C570.92 356.67 572.37 354.67 573.60 350.00C574.83 345.33 576.18 336.67 576.80 332.00C577.42 327.33 577.30 325.00 577.30 322.00C577.30 319.00 577.27 317.50 576.80 314.00C576.33 310.50 575.42 305.50 574.50 301.00C573.58 296.50 572.22 290.50 571.30 287.00C570.38 283.50 569.75 282.83 569.00 280.00C568.25 277.17 567.78 275.00 566.80 270.00C565.82 265.00 563.82 256.00 563.10 250.00C562.38 244.00 562.42 240.50 562.50 234.00C562.58 227.50 563.23 217.50 563.60 211.00C563.97 204.50 564.72 201.83 564.70 195.00C564.68 188.17 564.03 177.50 563.50 170.00C562.97 162.50 562.13 155.83 561.50 150.00C560.87 144.17 560.07 138.33 559.70 135.00C559.33 131.67 559.50 133.33 559.30 130.00C559.10 126.67 558.75 120.00 558.50 115.00C558.25 110.00 558.00 104.63 557.80 100.00C557.60 95.37 557.38 89.33 557.30 87.20Z" fill="rgba(0,0,0,0.285)"/>
<path d="M546.00 210.90L565.40 210.90L565.40 287.40L560.20 301.20L565.40 314.60L565.40 332.20L546.00 332.20L546.00 314.60L551.00 301.20L546.00 287.40Z" fill="rgba(93,93,93,0.74)"/>
<circle cx="555.50" cy="41.90" r="1.75" fill="#2d2d2d"/>
<circle cx="555.50" cy="75.80" r="1.75" fill="#2d2d2d"/>
<circle cx="555.50" cy="98.50" r="1.75" fill="#2d2d2d"/>
<circle cx="555.50" cy="109.40" r="1.75" fill="#2d2d2d"/>
<circle cx="555.50" cy="116.70" r="1.75" fill="#2d2d2d"/>
<circle cx="555.50" cy="122.30" r="1.75" fill="#2d2d2d"/>
<circle cx="555.50" cy="125.50" r="1.75" fill="#2d2d2d"/>
<circle cx="555.50" cy="129.60" r="1.75" fill="#2d2d2d"/>
<circle cx="555.50" cy="140.50" r="1.75" fill="#2d2d2d"/>
<circle cx="555.50" cy="157.00" r="1.75" fill="#2d2d2d"/>
<circle cx="555.50" cy="159.00" r="1.75" fill="#2d2d2d"/>
<circle cx="555.50" cy="161.00" r="1.75" fill="#2d2d2d"/>
<circle cx="555.50" cy="163.00" r="1.75" fill="#2d2d2d"/>
<circle cx="555.50" cy="165.00" r="1.75" fill="#2d2d2d"/>
<circle cx="555.50" cy="167.00" r="1.75" fill="#2d2d2d"/>
<circle cx="555.50" cy="169.00" r="1.75" fill="#2d2d2d"/>
<circle cx="555.50" cy="171.00" r="1.75" fill="#2d2d2d"/>
<circle cx="555.50" cy="173.00" r="1.75" fill="#2d2d2d"/>
<circle cx="555.50" cy="175.00" r="1.75" fill="#2d2d2d"/>
<circle cx="555.50" cy="177.00" r="1.75" fill="#2d2d2d"/>
<circle cx="555.50" cy="179.00" r="1.75" fill="#2d2d2d"/>
<circle cx="555.50" cy="181.00" r="1.75" fill="#2d2d2d"/>
<circle cx="555.50" cy="183.00" r="1.75" fill="#2d2d2d"/>
<circle cx="555.50" cy="185.00" r="1.75" fill="#2d2d2d"/>
<circle cx="555.50" cy="187.00" r="1.75" fill="#2d2d2d"/>
<circle cx="555.50" cy="189.00" r="1.75" fill="#2d2d2d"/>
<circle cx="555.50" cy="193.50" r="1.6" fill="#2d2d2d"/>
<circle cx="555.50" cy="196.50" r="1.6" fill="#2d2d2d"/>
<circle cx="555.50" cy="200.40" r="1.6" fill="#2d2d2d"/>
<circle cx="555.50" cy="204.60" r="1.6" fill="#2d2d2d"/>
<circle cx="555.50" cy="207.00" r="1.6" fill="#2d2d2d"/>
<circle cx="555.50" cy="209.50" r="1.6" fill="#2d2d2d"/>
<circle cx="555.50" cy="212.00" r="1.6" fill="#2d2d2d"/>
<circle cx="555.50" cy="214.50" r="1.6" fill="#2d2d2d"/>
<circle cx="555.50" cy="216.50" r="1.6" fill="#2d2d2d"/>
<circle cx="555.50" cy="222.50" r="1.65" fill="rgba(35,35,35,0.85)"/>
<circle cx="555.50" cy="224.60" r="1.65" fill="rgba(35,35,35,0.85)"/>
<circle cx="555.50" cy="226.80" r="1.65" fill="rgba(35,35,35,0.85)"/>
<circle cx="555.50" cy="233.00" r="1.6" fill="rgba(35,35,35,0.66)"/>
<circle cx="555.50" cy="242.00" r="1.6" fill="rgba(35,35,35,0.66)"/>
<circle cx="555.50" cy="247.50" r="1.6" fill="rgba(35,35,35,0.66)"/>
<circle cx="555.50" cy="250.00" r="1.6" fill="rgba(35,35,35,0.66)"/>
<circle cx="555.50" cy="252.50" r="1.6" fill="rgba(35,35,35,0.66)"/>
<circle cx="555.50" cy="255.00" r="1.6" fill="rgba(35,35,35,0.66)"/>
<circle cx="555.50" cy="257.30" r="1.6" fill="rgba(35,35,35,0.66)"/>
<circle cx="555.50" cy="262.00" r="1.6" fill="rgba(35,35,35,0.66)"/>
<circle cx="555.50" cy="266.30" r="1.6" fill="rgba(35,35,35,0.66)"/>
<circle cx="555.50" cy="268.50" r="1.6" fill="rgba(35,35,35,0.66)"/>
<circle cx="555.50" cy="270.50" r="1.6" fill="rgba(35,35,35,0.66)"/>
<rect x="553.80" y="272.50" width="3.4" height="108.00" rx="1.7" fill="rgba(35,35,35,0.92)"/>
<line x1="551.00" y1="301.20" x2="560.20" y2="301.20" stroke="#111" stroke-width="1.3"/>
<circle cx="555.50" cy="383.40" r="1.6" fill="#2d2d2d"/>
<circle cx="555.50" cy="401.60" r="1.6" fill="#2d2d2d"/>
<circle cx="555.50" cy="275.00" r="1.68" fill="rgba(0,0,0,0.8)"/>
<line x1="553.40" y1="275.00" x2="557.60" y2="275.00" stroke="rgba(0,0,0,0.8)" stroke-width="0.8"/>
<line x1="554.02" y1="273.52" x2="556.98" y2="276.48" stroke="rgba(0,0,0,0.8)" stroke-width="0.8"/>
<line x1="555.50" y1="272.90" x2="555.50" y2="277.10" stroke="rgba(0,0,0,0.8)" stroke-width="0.8"/>
<line x1="556.98" y1="273.52" x2="554.02" y2="276.48" stroke="rgba(0,0,0,0.8)" stroke-width="0.8"/>
<circle cx="555.50" cy="200.40" r="1.44" fill="rgba(0,0,0,0.6)"/>
<line x1="553.70" y1="200.40" x2="557.30" y2="200.40" stroke="rgba(0,0,0,0.6)" stroke-width="0.8"/>
<line x1="554.23" y1="199.13" x2="556.77" y2="201.67" stroke="rgba(0,0,0,0.6)" stroke-width="0.8"/>
<line x1="555.50" y1="198.60" x2="555.50" y2="202.20" stroke="rgba(0,0,0,0.6)" stroke-width="0.8"/>
<line x1="556.77" y1="199.13" x2="554.23" y2="201.67" stroke="rgba(0,0,0,0.6)" stroke-width="0.8"/>
<circle cx="555.50" cy="349.70" r="1.44" fill="rgba(0,0,0,0.6)"/>
<line x1="553.70" y1="349.70" x2="557.30" y2="349.70" stroke="rgba(0,0,0,0.6)" stroke-width="0.8"/>
<line x1="554.23" y1="348.43" x2="556.77" y2="350.97" stroke="rgba(0,0,0,0.6)" stroke-width="0.8"/>
<line x1="555.50" y1="347.90" x2="555.50" y2="351.50" stroke="rgba(0,0,0,0.6)" stroke-width="0.8"/>
<line x1="556.77" y1="348.43" x2="554.23" y2="350.97" stroke="rgba(0,0,0,0.6)" stroke-width="0.8"/>
<line x1="558.00" y1="41.90" x2="578.20" y2="41.90" stroke="#555" stroke-width="1" stroke-dasharray="1 2.5"/>
<text transform="translate(581.70,47.80) scale(1,1.000)" font-family="'Liberation Sans', sans-serif" font-size="10.90px" font-weight="normal" text-anchor="start" fill="#1e1e1e" stroke="#1e1e1e" stroke-width="0.34">raw data</text>
<line x1="557.70" y1="87.40" x2="578.20" y2="87.40" stroke="#555" stroke-width="1" stroke-dasharray="1 2.5"/>
<text transform="translate(581.70,92.90) scale(1,1.000)" font-family="'Liberation Sans', sans-serif" font-size="10.90px" font-weight="normal" text-anchor="start" fill="#1e1e1e" stroke="#1e1e1e" stroke-width="0.34">99th percentile, q(0.9</text>
<line x1="563.90" y1="188.20" x2="578.20" y2="188.20" stroke="#555" stroke-width="1" stroke-dasharray="1 2.5"/>
<text transform="translate(581.70,193.50) scale(1,1.000)" font-family="'Liberation Sans', sans-serif" font-size="10.90px" font-weight="normal" text-anchor="start" fill="#1e1e1e" stroke="#1e1e1e" stroke-width="0.34">kernel density</text>
<line x1="557.20" y1="200.40" x2="578.20" y2="200.40" stroke="#555" stroke-width="1" stroke-dasharray="1 2.5"/>
<text transform="translate(581.70,205.80) scale(1,1.000)" font-family="'Liberation Sans', sans-serif" font-size="10.90px" font-weight="normal" text-anchor="start" fill="#1e1e1e" stroke="#1e1e1e" stroke-width="0.34">mean + standard dev</text>
<line x1="566.00" y1="211.00" x2="578.20" y2="211.00" stroke="#555" stroke-width="1" stroke-dasharray="1 2.5"/>
<text transform="translate(581.70,216.70) scale(1,1.000)" font-family="'Liberation Sans', sans-serif" font-size="10.90px" font-weight="normal" text-anchor="start" fill="#1e1e1e" stroke="#1e1e1e" stroke-width="0.34">3rd quartile, q(0.75)</text>
<line x1="558.30" y1="275.00" x2="578.20" y2="275.00" stroke="#555" stroke-width="1" stroke-dasharray="1 2.5"/>
<text transform="translate(581.70,280.30) scale(1,1.000)" font-family="'Liberation Sans', sans-serif" font-size="10.90px" font-weight="normal" text-anchor="start" fill="#1e1e1e" stroke="#1e1e1e" stroke-width="0.34">mean</text>
<line x1="566.20" y1="287.20" x2="578.20" y2="287.20" stroke="#555" stroke-width="1" stroke-dasharray="1 2.5"/>
<text transform="translate(581.70,293.60) scale(1,1.000)" font-family="'Liberation Sans', sans-serif" font-size="10.90px" font-weight="normal" text-anchor="start" fill="#1e1e1e" stroke="#1e1e1e" stroke-width="0.34" textLength="103.2" lengthAdjust="spacingAndGlyphs">notch sup., 95% conf</text>
<line x1="560.50" y1="301.00" x2="578.20" y2="301.00" stroke="#555" stroke-width="1" stroke-dasharray="1 2.5"/>
<text transform="translate(581.70,306.80) scale(1,1.000)" font-family="'Liberation Sans', sans-serif" font-size="10.90px" font-weight="normal" text-anchor="start" fill="#1e1e1e" stroke="#1e1e1e" stroke-width="0.34">median, q(0.5)</text>
<line x1="566.00" y1="314.30" x2="578.20" y2="314.30" stroke="#555" stroke-width="1" stroke-dasharray="1 2.5"/>
<text transform="translate(581.70,320.30) scale(1,1.000)" font-family="'Liberation Sans', sans-serif" font-size="10.90px" font-weight="normal" text-anchor="start" fill="#1e1e1e" stroke="#1e1e1e" stroke-width="0.34">notch inf., 95% conf. m</text>
<line x1="566.00" y1="332.20" x2="578.20" y2="332.20" stroke="#555" stroke-width="1" stroke-dasharray="1 2.5"/>
<text transform="translate(581.70,338.00) scale(1,1.000)" font-family="'Liberation Sans', sans-serif" font-size="10.90px" font-weight="normal" text-anchor="start" fill="#1e1e1e" stroke="#1e1e1e" stroke-width="0.34">1st quartile, q(0.25)</text>
<line x1="558.00" y1="349.70" x2="578.20" y2="349.70" stroke="#555" stroke-width="1" stroke-dasharray="1 2.5"/>
<text transform="translate(581.70,355.20) scale(1,1.000)" font-family="'Liberation Sans', sans-serif" font-size="10.90px" font-weight="normal" text-anchor="start" fill="#1e1e1e" stroke="#1e1e1e" stroke-width="0.34">mean - standard devi</text>
<line x1="562.00" y1="380.30" x2="578.20" y2="380.30" stroke="#555" stroke-width="1" stroke-dasharray="1 2.5"/>
<text transform="translate(581.70,385.50) scale(1,1.000)" font-family="'Liberation Sans', sans-serif" font-size="10.90px" font-weight="normal" text-anchor="start" fill="#1e1e1e" stroke="#1e1e1e" stroke-width="0.34" textLength="101.1" lengthAdjust="spacingAndGlyphs">1st percentile, q(0.01</text>
</svg>
</body></html>
